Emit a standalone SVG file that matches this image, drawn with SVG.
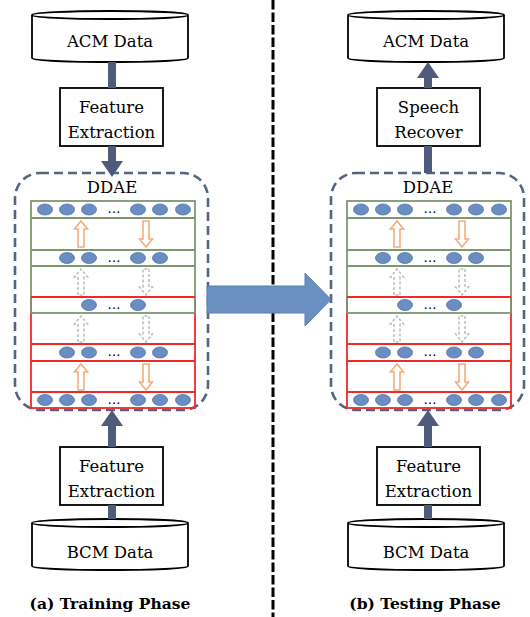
<svg xmlns="http://www.w3.org/2000/svg" xmlns:xlink="http://www.w3.org/1999/xlink" width="530" height="617" viewBox="0 0 530 617">
  <style>
    text { font-family: "DejaVu Serif", "Liberation Serif", serif; }
    .lbl { font-size: 16.5px; fill: #000; text-anchor: middle; }
    .cap { font-size: 15.5px; font-weight: bold; fill: #000; text-anchor: middle; }
    .dots { font-size: 13px; fill: #000; text-anchor: middle; }
    .shape { fill: #fff; stroke: #000; stroke-width: 1.8; }
    .frame { fill: none; stroke: #56657f; stroke-width: 2.6; stroke-dasharray: 9 5; }
    .grn { fill: none; stroke: #7f9672; stroke-width: 1.8; }
    .red { fill: none; stroke: #f02828; stroke-width: 1.8; }
    .unit { fill: #6a8dc2; stroke: #4f74aa; stroke-width: 0.8; }
    .ora { fill: #fff; stroke: #f2ad7c; stroke-width: 1.6; }
    .gry { fill: #fff; stroke: #bdbdbd; stroke-width: 1.5; stroke-dasharray: 3 2; }
    .link { fill: #4f5b7b; }
  </style>
  <defs>
    <!-- storage cylinder, 156 x 52 -->
    <path id="cyl" d="M0,5 A78,4 0 0 1 156,5 A78,4 0 0 1 0,5 Z M0,5 L0,48 A78,4 0 0 0 156,48 L156,5"/>
    <!-- hollow block arrow pointing up, centred at origin -->
    <path id="upArr" d="M-3,13 L-3,-5 L-6.5,-5 L0,-13 L6.5,-5 L3,-5 L3,13 Z"/>
    <!-- layered autoencoder network -->
    <g id="net">
      <rect class="red" x="31" y="297" width="164" height="111"/>
      <line class="red" x1="31" y1="344" x2="195" y2="344"/>
      <line class="red" x1="31" y1="361" x2="195" y2="361"/>
      <line class="red" x1="31" y1="392" x2="195" y2="392"/>
      <rect class="grn" x="31" y="201" width="164" height="112"/>
      <line class="grn" x1="31" y1="218" x2="195" y2="218"/>
      <line class="grn" x1="31" y1="250" x2="195" y2="250"/>
      <line class="grn" x1="31" y1="266" x2="195" y2="266"/>
      <line class="red" x1="31" y1="297" x2="195" y2="297"/>
      <!-- layer 1 -->
      <ellipse class="unit" cx="45" cy="209.5" rx="7.5" ry="5.5"/>
      <ellipse class="unit" cx="67" cy="209.5" rx="7.5" ry="5.5"/>
      <ellipse class="unit" cx="89" cy="209.5" rx="7.5" ry="5.5"/>
      <text class="dots" x="114" y="213">…</text>
      <ellipse class="unit" cx="138" cy="209.5" rx="7.5" ry="5.5"/>
      <ellipse class="unit" cx="160" cy="209.5" rx="7.5" ry="5.5"/>
      <ellipse class="unit" cx="183" cy="209.5" rx="7.5" ry="5.5"/>
      <!-- layer 2 -->
      <ellipse class="unit" cx="67" cy="258" rx="7.5" ry="5.5"/>
      <ellipse class="unit" cx="89" cy="258" rx="7.5" ry="5.5"/>
      <text class="dots" x="114" y="261.5">…</text>
      <ellipse class="unit" cx="138" cy="258" rx="7.5" ry="5.5"/>
      <ellipse class="unit" cx="160" cy="258" rx="7.5" ry="5.5"/>
      <!-- layer 3 -->
      <ellipse class="unit" cx="89" cy="305" rx="7.5" ry="5.5"/>
      <text class="dots" x="114" y="308.5">…</text>
      <ellipse class="unit" cx="138" cy="305" rx="7.5" ry="5.5"/>
      <!-- layer 4 -->
      <ellipse class="unit" cx="67" cy="352.5" rx="7.5" ry="5.5"/>
      <ellipse class="unit" cx="89" cy="352.5" rx="7.5" ry="5.5"/>
      <text class="dots" x="114" y="356">…</text>
      <ellipse class="unit" cx="138" cy="352.5" rx="7.5" ry="5.5"/>
      <ellipse class="unit" cx="160" cy="352.5" rx="7.5" ry="5.5"/>
      <!-- layer 5 -->
      <ellipse class="unit" cx="45" cy="400" rx="7.5" ry="5.5"/>
      <ellipse class="unit" cx="67" cy="400" rx="7.5" ry="5.5"/>
      <ellipse class="unit" cx="89" cy="400" rx="7.5" ry="5.5"/>
      <text class="dots" x="114" y="403.5">…</text>
      <ellipse class="unit" cx="138" cy="400" rx="7.5" ry="5.5"/>
      <ellipse class="unit" cx="160" cy="400" rx="7.5" ry="5.5"/>
      <ellipse class="unit" cx="183" cy="400" rx="7.5" ry="5.5"/>
      <!-- encode / decode arrows -->
      <use xlink:href="#upArr" class="ora" transform="translate(81,234)"/>
      <use xlink:href="#upArr" class="ora" transform="translate(146,234) rotate(180)"/>
      <use xlink:href="#upArr" class="gry" transform="translate(81,282)"/>
      <use xlink:href="#upArr" class="gry" transform="translate(146,282) rotate(180)"/>
      <use xlink:href="#upArr" class="gry" transform="translate(81,329)"/>
      <use xlink:href="#upArr" class="gry" transform="translate(146,329) rotate(180)"/>
      <use xlink:href="#upArr" class="ora" transform="translate(81,377)"/>
      <use xlink:href="#upArr" class="ora" transform="translate(146,377) rotate(180)"/>
    </g>
  </defs>

  <!-- phase divider -->
  <line x1="273" y1="0" x2="273" y2="617" stroke="#000" stroke-width="3" stroke-dasharray="9.5 3"/>

  <!-- training phase -->
  <g id="acm-train">
    <use xlink:href="#cyl" class="shape" x="32" y="10"/>
    <text class="lbl" x="110" y="47">ACM Data</text>
  </g>
  <g id="fe-train-top">
    <rect class="shape" x="60" y="88" width="103" height="58"/>
    <text class="lbl" x="111.5" y="113">Feature</text>
    <text class="lbl" x="111.5" y="138">Extraction</text>
  </g>
  <g id="ddae-train">
    <rect class="frame" x="15" y="173" width="193" height="237" rx="25"/>
    <text class="lbl" x="112" y="193">DDAE</text>
    <use xlink:href="#net"/>
  </g>
  <g id="fe-train-bottom">
    <rect class="shape" x="60" y="447" width="103" height="58"/>
    <text class="lbl" x="111.5" y="472">Feature</text>
    <text class="lbl" x="111.5" y="497">Extraction</text>
  </g>
  <g id="bcm-train">
    <use xlink:href="#cyl" class="shape" x="32" y="518"/>
    <text class="lbl" x="110" y="558">BCM Data</text>
  </g>
  <text class="cap" x="110" y="609">(a) Training Phase</text>

  <!-- testing phase -->
  <g id="acm-test">
    <use xlink:href="#cyl" class="shape" x="348" y="10"/>
    <text class="lbl" x="426" y="47">ACM Data</text>
  </g>
  <g id="recover-test">
    <rect class="shape" x="377" y="88" width="103" height="58"/>
    <text class="lbl" x="428.5" y="113">Speech</text>
    <text class="lbl" x="428.5" y="138">Recover</text>
  </g>
  <g id="ddae-test">
    <rect class="frame" x="331" y="173" width="193" height="237" rx="25"/>
    <text class="lbl" x="428" y="193">DDAE</text>
    <use xlink:href="#net" x="316"/>
  </g>
  <g id="fe-test">
    <rect class="shape" x="377" y="447" width="103" height="58"/>
    <text class="lbl" x="428.5" y="472">Feature</text>
    <text class="lbl" x="428.5" y="497">Extraction</text>
  </g>
  <g id="bcm-test">
    <use xlink:href="#cyl" class="shape" x="348" y="518"/>
    <text class="lbl" x="426" y="558">BCM Data</text>
  </g>
  <text class="cap" x="425" y="609">(b) Testing Phase</text>

  <!-- connectors -->
  <g id="connectors">
    <!-- training -->
    <rect class="link" x="108" y="62" width="8" height="26"/>
    <path class="link" d="M108,146 L116,146 L116,161 L123,161 L112,177 L101,161 L108,161 Z"/>
    <path class="link" d="M108,447 L116,447 L116,426 L123,426 L112,410 L101,426 L108,426 Z"/>
    <rect class="link" x="108" y="505" width="8" height="14"/>
    <!-- model transfer -->
    <path d="M207,286 L305,286 L305,273 L331,299.5 L305,326 L305,313 L207,313 Z" fill="#6a8fc0" stroke="#5a7eb0" stroke-width="1"/>
    <!-- testing -->
    <path class="link" d="M424,88 L432,88 L432,78 L439,78 L428,62 L417,78 L424,78 Z"/>
    <rect class="link" x="424" y="146" width="8" height="27"/>
    <path class="link" d="M424,447 L432,447 L432,426 L439,426 L428,410 L417,426 L424,426 Z"/>
    <rect class="link" x="424" y="505" width="8" height="14"/>
  </g>
</svg>
